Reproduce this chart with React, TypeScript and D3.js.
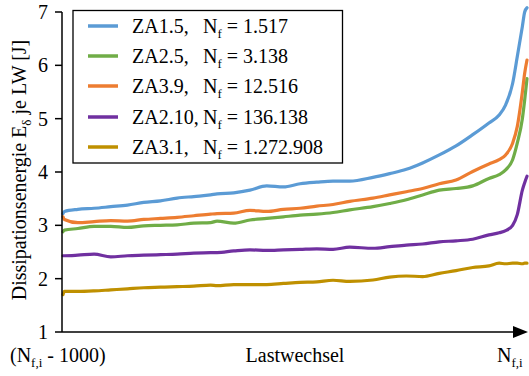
import React from "react";
import * as d3 from "d3";

const cycles = [0, 3, 32, 67, 103, 139, 174, 210, 246, 282, 318, 332, 368, 403, 439, 475, 511, 547, 582, 618, 668, 704, 740, 775, 811, 847, 883, 918, 940, 954, 969, 979, 990, 995, 1000];
const za15 = [3.22, 3.26, 3.3, 3.32, 3.35, 3.38, 3.43, 3.46, 3.51, 3.54, 3.57, 3.59, 3.61, 3.66, 3.74, 3.72, 3.78, 3.81, 3.83, 3.83, 3.9, 3.97, 4.05, 4.17, 4.32, 4.49, 4.7, 4.92, 5.07, 5.26, 5.66, 6.16, 6.73, 7.0, 7.08];
const za25 = [2.88, 2.91, 2.94, 2.98, 2.98, 2.96, 2.99, 3.0, 3.01, 3.04, 3.05, 3.08, 3.04, 3.1, 3.13, 3.16, 3.19, 3.21, 3.24, 3.29, 3.35, 3.41, 3.48, 3.57, 3.66, 3.69, 3.74, 3.88, 3.95, 4.04, 4.23, 4.54, 5.0, 5.35, 5.75];
const za39 = [3.16, 3.11, 3.05, 3.07, 3.09, 3.08, 3.11, 3.13, 3.15, 3.18, 3.21, 3.22, 3.23, 3.28, 3.26, 3.3, 3.32, 3.36, 3.39, 3.45, 3.51, 3.57, 3.63, 3.69, 3.78, 3.85, 4.01, 4.15, 4.23, 4.32, 4.54, 4.85, 5.5, 5.85, 6.1];
const za210 = [2.43, 2.43, 2.44, 2.46, 2.41, 2.43, 2.44, 2.45, 2.46, 2.48, 2.49, 2.49, 2.52, 2.54, 2.53, 2.54, 2.55, 2.56, 2.55, 2.59, 2.57, 2.6, 2.63, 2.65, 2.69, 2.71, 2.74, 2.82, 2.86, 2.9, 3.0, 3.2, 3.66, 3.8, 3.92];
const za31 = [1.7, 1.76, 1.76, 1.77, 1.79, 1.81, 1.83, 1.84, 1.85, 1.86, 1.88, 1.87, 1.89, 1.89, 1.89, 1.91, 1.93, 1.94, 1.97, 1.95, 1.975, 2.03, 2.05, 2.04, 2.1, 2.15, 2.21, 2.24, 2.29, 2.28, 2.29, 2.29, 2.28, 2.29, 2.29];

const seriesNames = ["ZA1.5,", "ZA2.5,", "ZA3.9,", "ZA2.10,", "ZA3.1,"];
const seriesNf = ["1.517", "3.138", "12.516", "136.138", "1.272.908"];
const seriesValues = [za15, za25, za39, za210, za31];
const seriesColors = ["#5B9BD5", "#70AD47", "#ED7D31", "#7030A0", "#BF9000"];
const yTicks = [1, 2, 3, 4, 5, 6, 7];

const W = 529;
const H = 376;
const FONT = "Liberation Serif";

export default function App() {
  const x = d3.scaleLinear().domain([0, 1000]).range([63, 527]);
  const y = d3.scaleLinear().domain([1, 7]).range([332, 12]);
  const line = d3
    .line<number>()
    .x((_, i) => x(cycles[i]))
    .y((d) => y(d))
    .curve(d3.curveMonotoneX);

  const legendY = [26, 56, 86, 117, 147];
  const ts = { fontFamily: FONT, fontSize: "20px" } as React.CSSProperties;
  const sub = { fontFamily: FONT, fontSize: "13px" } as React.CSSProperties;

  return (
    <svg width={W} height={H} style={{ position: "absolute", left: 0, top: 0, background: "#fff" }}>
      <rect x={0} y={0} width={W} height={H} fill="#fff" />
      {seriesValues.map((vals, k) => (
        <path
          key={k}
          d={line(vals) || ""}
          fill="none"
          stroke={seriesColors[k]}
          strokeWidth={3.2}
          strokeLinejoin="round"
          strokeLinecap="round"
        />
      ))}
      {/* y axis */}
      <line x1={62} x2={62} y1={y(7)} y2={y(1)} stroke="#000" strokeWidth={1.5} />
      {yTicks.map((t) => (
        <g key={t}>
          <line x1={55} x2={62} y1={y(t)} y2={y(t)} stroke="#000" strokeWidth={1.5} />
          <text x={48} y={y(t) + 7} textAnchor="end" style={ts} fill="#000">
            {t}
          </text>
        </g>
      ))}
      {/* x axis */}
      <line x1={62} x2={516} y1={y(1)} y2={y(1)} stroke="#000" strokeWidth={1.5} />
      <polygon points={`${513},${y(1) - 6} ${528},${y(1)} ${513},${y(1) + 6}`} fill="#000" />
      {/* x labels */}
      <text x={10} y={362} style={ts} fill="#000">
        (N
        <tspan style={sub} dy={5}>f,i</tspan>
        <tspan dy={-5}> - 1000)</tspan>
      </text>
      <text x={295} y={362} style={ts} textAnchor="middle" fill="#000">
        Lastwechsel
      </text>
      <text x={497} y={362} style={ts} fill="#000">
        N<tspan style={sub} dy={5}>f,i</tspan>
      </text>
      {/* y label */}
      <text transform={`translate(26,170) rotate(-90)`} textAnchor="middle" style={ts} fill="#000">
        Dissipationsenergie E<tspan style={sub} dy={5}>δ</tspan>
        <tspan dy={-5}> je LW [J]</tspan>
      </text>
      {/* legend */}
      <rect x={73} y={10.5} width={269.5} height={152.5} fill="#fff" stroke="#000" strokeWidth={1.3} />
      {seriesNames.map((n, i) => (
        <g key={n}>
          <line x1={88} x2={118} y1={legendY[i]} y2={legendY[i]} stroke={seriesColors[i]} strokeWidth={3.5} />
          <text x={132} y={legendY[i] + 7} style={ts} fill="#000">
            {n}
          </text>
          <text x={203} y={legendY[i] + 7} style={ts} fill="#000">
            N<tspan style={sub} dy={5}>f</tspan>
            <tspan dy={-5}> = {seriesNf[i]}</tspan>
          </text>
        </g>
      ))}
    </svg>
  );
}
